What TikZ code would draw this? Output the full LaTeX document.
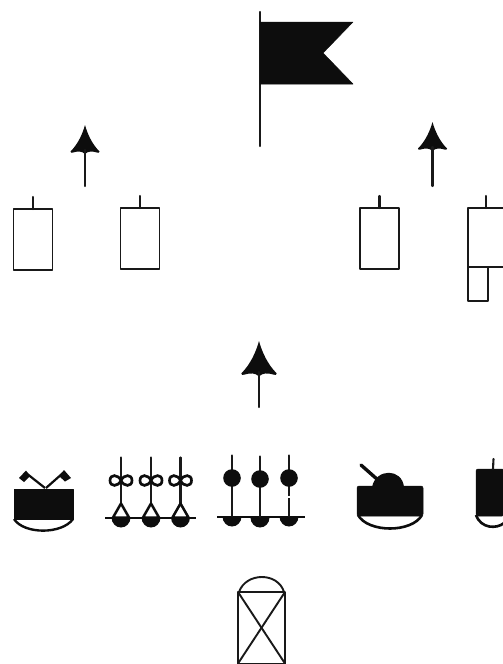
\documentclass[tikz,border=0pt]{standalone}
\tikzset{
  x=1pt,y=-1pt,
  ink/.style={draw=black!90,line width=2.1pt,line cap=round,line join=round},
  thin ink/.style={draw=black!90,line width=1.9pt,line join=round},
  solid ink/.style={fill=black!95,draw=black!95,line width=.5pt,line join=round},
  arrowhead/.pic={
    \fill[black!95] (0,-27) .. controls (2.5,-18) and (7,-8) .. (14.5,-0.5) .. controls (15,1) and (13,1) .. (12,0.5) .. controls (7,-1) and (3,-1) .. (0,2) .. controls (-3,-1) and (-7,-1) .. (-12,0.5) .. controls (-13,1) and (-15,1) .. (-14.5,-0.5) .. controls (-7,-8) and (-2.5,-18) .. (0,-27) -- cycle;
  },
  unitbox/.pic={
    \draw[thin ink] (-19.5,0) rectangle (19.5,61);
    \draw[ink] (0,0) -- (0,-12);
  },
  halfdisc/.pic={
    \fill[black!95] (-9.5,0) arc[start angle=180,end angle=360,x radius=9.5,y radius=-10];
  },
  loop/.pic={
    \draw[line width=2.7pt,black!95] (0,0) .. controls (-3,-6.5) and (-11,-6.5) .. (-11,0) .. controls (-11,6.5) and (-3,6.5) .. (0,0) .. controls (3,-6.5) and (11,-6.5) .. (11,0) .. controls (11,6.5) and (3,6.5) .. (0,0) -- cycle;
  },
  bugler/.pic={
    \draw[ink] (0,-60) -- (0,-14);
    \draw[line width=2.5pt,black!95,fill=white,line join=round] (0,-14) -- (8,0) -- (-8,0) -- cycle;
    \pic at (0,0) {halfdisc};
    \pic at (0,-37) {loop};
  },
  gunner/.pic={
    \draw[ink] (0,-61) -- (0,0);
    \fill[black!95] (0,-38.5) circle[radius=8.8];
    \pic at (0,0) {halfdisc};
  }
}
\begin{document}
\begin{tikzpicture}
\useasboundingbox[fill=white] (0,0) rectangle (503,664);
% flag
\draw[ink] (260,12) -- (260,146);
\fill[solid ink] (260,22) -- (353,22) -- (323,53) -- (353,84) -- (260,84) -- cycle;
% arrows
\pic at (85,152) {arrowhead};
\draw[ink] (85,150) -- (85,186);
\pic at (432.5,149) {arrowhead};
\draw[ink] (432.5,147) -- (432.5,186);
\pic[scale=1.22] at (259,374) {arrowhead};
\draw[ink] (259,372) -- (259,407);
% unit boxes
\pic at (33,209) {unitbox};
\pic at (140,208) {unitbox};
\pic at (379.5,208) {unitbox};
\draw[thin ink] (504,208) -- (468,208) -- (468,267) -- (504,267);
\draw[ink] (486,208) -- (486,196);
\draw[thin ink] (468,267) -- (468,301) -- (488,301) -- (488,267);
% drummer
\fill[solid ink] (14,489) rectangle (73,519);
\draw[line width=2.4pt,black!95] (14,519) .. controls (24,534.5) and (62,534.5) .. (73,519);
\draw[line width=2.2pt,black!95] (45,488) -- (26,473);
\draw[line width=2.2pt,black!95] (46,488) -- (63,473);
\fill[black!95] (19,478) -- (26,470.5) -- (30,476) -- (24,482) -- cycle;
\fill[black!95] (59,476) -- (64,470) -- (71,478) -- (65,481.5) -- cycle;
% buglers
\draw[line width=2pt,black!95] (105,517.5) -- (196,517.5);
\pic at (121,517.5) {bugler};
\pic at (151,517.5) {bugler};
\pic at (180.5,517.5) {bugler};
% gunners
\draw[line width=2pt,black!95] (217,516.5) -- (305,516.5);
\pic at (232,516.5) {gunner};
\pic at (260,517.5) {gunner};
\pic at (289,516.5) {gunner};
\draw[white,line width=2.6pt] (289,495.5) -- (289,498);
% tank
\fill[solid ink,rounded corners=2pt] (357,486) -- (423,486) -- (423,516) -- (357,516) -- cycle;
\fill[black!95] (372,487) .. controls (376,468) and (402,468) .. (404,487) -- cycle;
\draw[line width=3.4pt,black!95,line cap=round] (361,465) -- (378,480);
\draw[line width=2.6pt,black!95] (358,515) .. controls (368,533) and (412,533) .. (422,515);
% last unit
\fill[solid ink,rounded corners=2pt] (476,469) -- (504,469) -- (504,516) -- (476,516) -- cycle;
\draw[ink] (493,469) -- (493.5,459);
\draw[line width=2.6pt,black!95] (476,515) .. controls (481,529) and (497,529) .. (504,523);
% bottom unit
\draw[thin ink] (238,664) -- (238,592) -- (285,592) -- (285,664);
\draw[thin ink] (238,663.5) -- (285,663.5);
\draw[thin ink] (239,592) .. controls (246,572) and (278,572) .. (284,592);
\draw[thin ink] (238,592) -- (285,663.5);
\draw[thin ink] (285,592) -- (238,663.5);
\end{tikzpicture}
\end{document}
